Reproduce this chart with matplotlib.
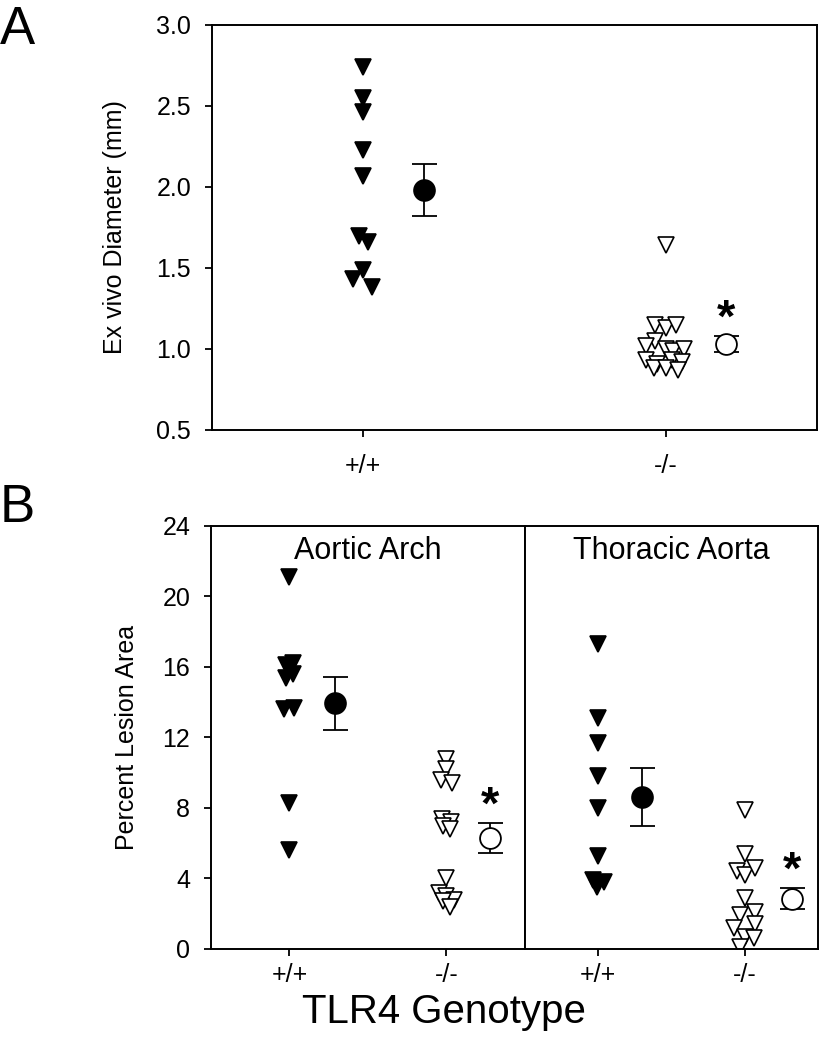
import numpy as np
import matplotlib.pyplot as plt

plt.rcParams['font.family'] = ['Liberation Sans', 'DejaVu Sans']
plt.rcParams['axes.linewidth'] = 1.4

genotypes = ['+/+', '-/-']

# A: ex vivo diameter (mm)
diam_wt = [2.74, 2.55, 2.46, 2.23, 2.07, 1.70, 1.66, 1.49, 1.43, 1.38]
diam_ko = [1.64, 1.15, 1.13, 1.15, 1.05, 1.02, 1.00, 0.99, 1.00,
           0.93, 0.91, 0.93, 0.92, 0.88, 0.88, 0.87]
diam_mean = [1.98, 1.03]
diam_sem = [0.16, 0.05]

# B: percent lesion area
arch_wt = [21.1, 16.1, 16.2, 15.4, 15.6, 13.6, 13.7, 8.3, 5.6]
arch_ko = [10.8, 10.2, 9.6, 9.4, 7.4, 7.2, 7.0, 6.8, 4.0, 3.2, 3.0, 2.8, 2.7, 2.4]
arch_mean = [13.95, 6.3]
arch_sem = [1.5, 0.85]

thor_wt = [17.3, 13.1, 11.7, 9.8, 8.0, 5.3, 3.9, 3.5, 3.8]
thor_ko = [7.9, 5.4, 4.4, 4.2, 4.6, 2.9, 1.9, 2.1, 1.2, 1.4, 0.7, 0.6, 0.1]
thor_mean = [8.6, 2.85]
thor_sem = [1.65, 0.6]

# horizontal jitter of the individual points (layout only)
jit_diam_wt = [0, 0, 0, 0, 0, -0.03, 0.03, 0, -0.07, 0.06]
jit_diam_ko = [0, -0.07, 0, 0.07, -0.07, -0.13, 0, 0.05, 0.12,
               -0.13, -0.06, 0.04, 0.11, -0.08, 0.0, 0.08]
jit_arch_wt = [0, -0.05, 0.05, -0.05, 0.05, -0.07, 0.06, 0, 0]
jit_arch_ko = [0, 0, -0.07, 0.07, -0.06, 0.06, -0.05, 0.05, 0, -0.1, 0, 0.1, -0.05, 0.05]
jit_thor_wt = [0, 0, 0, 0, 0, 0, -0.07, -0.02, 0.08]
jit_thor_ko = [0, 0, -0.11, 0, 0.14, 0, -0.07, 0.14, -0.14, 0.14, 0, 0.12, -0.07]

fig = plt.figure(figsize=(8.27, 10.5), dpi=100)

axA = fig.add_axes([0.2563, 0.5905, 0.7316, 0.3857])
axB1 = fig.add_axes([0.2551, 0.0962, 0.3797, 0.4029])
axB2 = fig.add_axes([0.6348, 0.0962, 0.3543, 0.4029])


def strip(ax, xc, vals, jit, filled):
    x = xc + np.array(jit)
    ax.plot(x, vals, linestyle='none', marker='v', ms=11,
            mfc='black' if filled else 'white', mec='black', mew=1.2)


def mean_point(ax, xc, m, s, filled, star=False):
    ax.errorbar([xc], [m], yerr=[s], fmt='o', ms=15,
                mfc='black' if filled else 'white', mec='black', mew=1.3,
                ecolor='black', elinewidth=1.3, capsize=9, capthick=1.3)
    if star:
        ax.annotate('*', xy=(xc, m + s), xytext=(0, 12), textcoords='offset points',
                    ha='center', va='center', fontsize=34, fontweight='bold')


# Panel A
strip(axA, 1, diam_wt, jit_diam_wt, True)
strip(axA, 3, diam_ko, jit_diam_ko, False)
mean_point(axA, 1.4, diam_mean[0], diam_sem[0], True)
mean_point(axA, 3.4, diam_mean[1], diam_sem[1], False, star=True)
axA.set_xlim(0, 4)
axA.set_ylim(0.5, 3.0)
axA.set_yticks(np.arange(0.5, 3.01, 0.5))
axA.set_yticklabels(['%.1f' % v for v in np.arange(0.5, 3.01, 0.5)])
axA.set_xticks([1, 3])
axA.set_xticklabels(genotypes)
axA.tick_params(axis='y', direction='out', length=5, width=1.3, labelsize=18, pad=10)
axA.tick_params(axis='x', direction='out', length=5, width=1.3, labelsize=18, pad=12)
axA.set_ylabel('Ex vivo Diameter (mm)', fontsize=18)
axA.yaxis.set_label_coords(-0.14, 0.5)

# Panel B
strip(axB1, 1, arch_wt, jit_arch_wt, True)
strip(axB1, 3, arch_ko, jit_arch_ko, False)
mean_point(axB1, 1.58, arch_mean[0], arch_sem[0], True)
mean_point(axB1, 3.55, arch_mean[1], arch_sem[1], False, star=True)

strip(axB2, 1, thor_wt, jit_thor_wt, True)
strip(axB2, 3, thor_ko, jit_thor_ko, False)
mean_point(axB2, 1.6, thor_mean[0], thor_sem[0], True)
mean_point(axB2, 3.65, thor_mean[1], thor_sem[1], False, star=True)

for ax, title in [(axB1, 'Aortic Arch'), (axB2, 'Thoracic Aorta')]:
    ax.set_xlim(0, 4)
    ax.set_ylim(0, 24)
    ax.set_yticks(np.arange(0, 25, 4))
    ax.set_xticks([1, 3])
    ax.set_xticklabels(genotypes)
    ax.tick_params(axis='x', direction='out', length=5, width=1.3, labelsize=18, pad=5)
    ax.tick_params(axis='y', direction='out', length=5, width=1.3, labelsize=18, pad=10)
    ax.text(0.5, 0.94, title, transform=ax.transAxes, ha='center', va='center', fontsize=22)

axB2.tick_params(axis='y', left=False, labelleft=False)
axB1.set_ylabel('Percent Lesion Area', fontsize=18)
axB1.yaxis.set_label_coords(-0.23, 0.5)

fig.text(0.537, 0.036, 'TLR4 Genotype', ha='center', va='center', fontsize=29)
fig.text(0.0, 0.995, 'A', ha='left', va='top', fontsize=38)
fig.text(0.0, 0.54, 'B', ha='left', va='top', fontsize=38)

fig.savefig('out.png', dpi=100)
